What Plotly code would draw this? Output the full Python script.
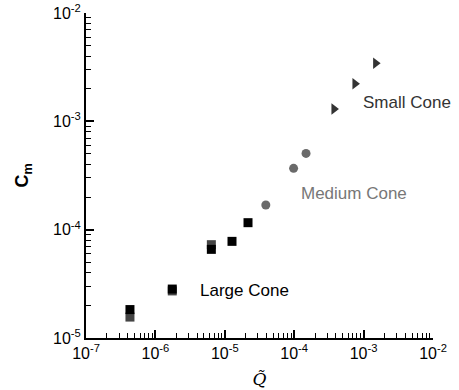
import plotly.graph_objects as go

# Large cone (two overlapping runs)
large_q = [4.3e-7, 1.75e-6, 6.4e-6, 1.27e-5, 2.16e-5]
large_cm = [1.83e-5, 2.83e-5, 6.58e-5, 7.8e-5, 1.16e-4]
large2_q = [4.3e-7, 1.75e-6, 6.4e-6]
large2_cm = [1.56e-5, 2.72e-5, 7.27e-5]

# Medium cone
medium_q = [3.9e-5, 9.8e-5, 1.48e-4]
medium_cm = [1.69e-4, 3.68e-4, 5.06e-4]

# Small cone
small_q = [3.74e-4, 7.5e-4, 1.49e-3]
small_cm = [1.30e-3, 2.22e-3, 3.44e-3]

x_tickvals = [1e-7, 1e-6, 1e-5, 1e-4, 1e-3, 1e-2]
x_ticktext = ["10<sup>-7</sup>", "10<sup>-6</sup>", "10<sup>-5</sup>",
              "10<sup>-4</sup>", "10<sup>-3</sup>", "10<sup>-2</sup>"]
y_tickvals = [1e-5, 1e-4, 1e-3, 1e-2]
y_ticktext = ["10<sup>-5</sup>", "10<sup>-4</sup>", "10<sup>-3</sup>", "10<sup>-2</sup>"]

fig = go.Figure()
fig.add_trace(go.Scatter(x=large2_q, y=large2_cm, mode="markers",
                         marker=dict(symbol="square", size=9, color="#444444")))
fig.add_trace(go.Scatter(x=large_q, y=large_cm, mode="markers",
                         marker=dict(symbol="square", size=9, color="#000000")))
fig.add_trace(go.Scatter(x=medium_q, y=medium_cm, mode="markers",
                         marker=dict(symbol="circle", size=9, color="#6a6a6a")))
fig.add_trace(go.Scatter(x=small_q, y=small_cm, mode="markers",
                         marker=dict(symbol="triangle-right", size=10, color="#333333")))

# Series labels placed in log10 data coordinates
label_font = dict(family="Liberation Sans, Arial, sans-serif", size=17)
fig.add_annotation(x=-5.39, y=-4.56, xref="x", yref="y", text="Large Cone",
                   showarrow=False, xanchor="left", font=dict(label_font, color="#000000"))
fig.add_annotation(x=-3.93, y=-3.67, xref="x", yref="y", text="Medium Cone",
                   showarrow=False, xanchor="left", font=dict(label_font, color="#777777"))
fig.add_annotation(x=-3.04, y=-2.83, xref="x", yref="y", text="Small Cone",
                   showarrow=False, xanchor="left", font=dict(label_font, color="#333333"))

axis_common = dict(
    type="log", showgrid=False, zeroline=False, showline=True, automargin=False,
    linecolor="black", linewidth=2, ticks="inside", ticklen=8, tickwidth=1.5,
    tickcolor="black", mirror=False,
    tickfont=dict(family="Liberation Sans, Arial, sans-serif", size=16, color="black"),
    minor=dict(ticks="inside", ticklen=5, tickwidth=1, tickcolor="black", dtick="D1"),
)

fig.update_xaxes(axis_common, range=[-7, -2], tickvals=x_tickvals, ticktext=x_ticktext,
                 title=dict(text="<i>Q̃</i>", standoff=12,
                            font=dict(family="DejaVu Serif, serif", size=17, color="black")))
fig.update_yaxes(axis_common, range=[-5, -2], tickvals=y_tickvals, ticktext=y_ticktext,
                 title=dict(text="<b>C<sub>m</sub></b>", standoff=20,
                            font=dict(family="Liberation Sans, Arial, sans-serif", size=18, color="black")))

fig.update_layout(
    width=459, height=390,
    margin=dict(l=86, r=26, t=13, b=52),
    plot_bgcolor="white", paper_bgcolor="white",
    showlegend=False,
)

fig.write_html("out.html")
